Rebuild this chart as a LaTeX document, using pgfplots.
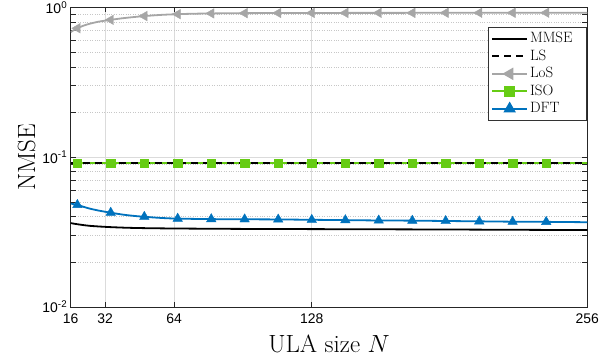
\documentclass[border=0pt]{standalone}
\usepackage{pgfplots}
\pgfplotsset{compat=1.18}
\usepackage{fontspec}
\newfontfamily\helv{Liberation Sans}
\definecolor{isogreen}{RGB}{102,204,20}
\definecolor{dftblue}{RGB}{0,114,189}
\definecolor{losgray}{RGB}{166,166,166}
\begin{document}
\begin{tikzpicture}
\begin{axis}[
  scale only axis,
  width=516.6bp, height=299.7bp,
  xmin=16, xmax=256,
  ymode=log, ymin=0.01, ymax=1,
  xtick={16,32,64,128,256},
  xticklabels={16,32,64,128,256},
  ytick={0.01,0.1,1},
  yticklabels={10\textsuperscript{-2},10\textsuperscript{-1},10\textsuperscript{0}},
  tick label style={font=\helv\fontsize{14}{16}\selectfont},
  xticklabel style={yshift=-3.5bp},
  tick align=inside,
  major tick length=5bp, minor tick length=5bp,
  every tick/.style={black!85, line width=0.6bp},
  axis line style={black!85, line width=0.8bp},
  xmajorgrids, ymajorgrids, yminorgrids,
  major grid style={black!14, line width=0.6bp},
  minor grid style={black!22, dotted, line width=0.6bp},
  xlabel={ULA size $N$},
  ylabel={NMSE},
  label style={font=\fontsize{25}{29}\selectfont},
  xlabel style={yshift=-4bp},
  legend style={at={(0.9988,0.933)}, anchor=north east,
    font=\fontsize{15}{18}\selectfont, draw=black!80,
    inner xsep=3bp, inner ysep=2.5bp, row sep=0bp,
    nodes={inner sep=2bp, text height=10.5bp, text depth=3bp}},
  legend cell align=left,
  legend image code/.code={\draw[mark repeat=2, mark phase=2] plot coordinates {(0bp,0bp) (17.5bp,0bp) (35bp,0bp)};},
]
\addlegendimage{black, line width=1.8bp}
\addlegendentry{MMSE\rule{9bp}{0pt}}
\addlegendimage{black, line width=1.8bp, dash pattern=on 7bp off 5bp}
\addlegendentry{LS}
\addlegendimage{losgray, line width=1.8bp, mark=triangle*, mark size=5.5bp, mark options={solid, rotate=90, fill=losgray}}
\addlegendentry{LoS}
\addlegendimage{isogreen, line width=1.8bp, mark=square*, mark size=4.3bp, mark options={solid, fill=isogreen}}
\addlegendentry{ISO}
\addlegendimage{dftblue, line width=1.8bp, mark=triangle*, mark size=5.5bp, mark options={solid, fill=dftblue}}
\addlegendentry{DFT}

% MMSE
\addplot[forget plot, black, line width=1.8bp, smooth] coordinates {
(16,0.0363)(19,0.0357)(22,0.0352)(25,0.0348)(30,0.0344)(35,0.0341)(42,0.0338)(50,0.0336)(65.7,0.0334)(96.8,0.0332)(128,0.0331)(190,0.0329)(256,0.0326)};

% ISO line
\addplot[forget plot, isogreen, line width=1.8bp] coordinates {(16,0.0912)(256,0.0912)};
% LS
\addplot[forget plot, black, line width=1.8bp, dash pattern=on 7bp off 5bp] coordinates {(16,0.0912)(256,0.0912)};
% ISO marks
\addplot[forget plot, only marks, isogreen, mark=square*, mark size=4.3bp, mark options={fill=isogreen}] coordinates {
(19.1,0.0912)(34.6,0.0912)(50.2,0.0912)(65.7,0.0912)(81.3,0.0912)(96.8,0.0912)(112.4,0.0912)(128,0.0912)(143.6,0.0912)(159.1,0.0912)(174.7,0.0912)(190.2,0.0912)(205.8,0.0912)(221.3,0.0912)(236.9,0.0912)};

% LoS line
\addplot[forget plot, losgray, line width=1.8bp, smooth] coordinates {
(16,0.683)(17.5,0.705)(19.1,0.725)(22,0.755)(25,0.778)(29,0.802)(34.6,0.825)(40,0.845)(45,0.86)(50.2,0.874)(58,0.89)(65.7,0.90)(73,0.906)(81.3,0.91)(96.8,0.914)(128,0.917)(160,0.918)(200,0.919)(256,0.92)};
% LoS marks
\addplot[forget plot, only marks, losgray, mark=triangle*, mark size=5.5bp, mark options={rotate=90, fill=losgray}] coordinates {
(19.1,0.725)(34.6,0.825)(50.2,0.874)(65.7,0.90)(81.3,0.91)(96.8,0.914)(112.4,0.916)(128,0.917)(143.6,0.917)(159.1,0.918)(174.7,0.918)(190.2,0.919)(205.8,0.919)(221.3,0.919)(236.9,0.92)};

% DFT line
\addplot[forget plot, dftblue, line width=1.8bp, smooth] coordinates {
(16,0.0490)(19.1,0.0480)(22,0.0466)(25,0.0453)(29,0.0440)(34.6,0.0426)(40,0.0414)(45,0.0406)(50.2,0.0400)(58,0.0393)(65.7,0.0389)(81.3,0.0386)(96.8,0.0385)(112.4,0.0384)(128,0.0382)(143.6,0.0380)(159.1,0.0378)(174.7,0.0377)(190.2,0.0375)(205.8,0.0373)(221.3,0.0371)(236.9,0.0370)(256,0.0368)};
% DFT marks
\addplot[forget plot, only marks, dftblue, mark=triangle*, mark size=5.5bp, mark options={fill=dftblue}] coordinates {
(19.1,0.0480)(34.6,0.0426)(50.2,0.0400)(65.7,0.0389)(81.3,0.0386)(96.8,0.0385)(112.4,0.0384)(128,0.0382)(143.6,0.0380)(159.1,0.0378)(174.7,0.0377)(190.2,0.0375)(205.8,0.0373)(221.3,0.0371)(236.9,0.0370)};
\end{axis}
\pgfresetboundingbox
\path ([shift={(-70.7bp,-54bp)}]current axis.south west) rectangle ([shift={(12.7bp,7.3bp)}]current axis.north east);
\end{tikzpicture}
\end{document}
